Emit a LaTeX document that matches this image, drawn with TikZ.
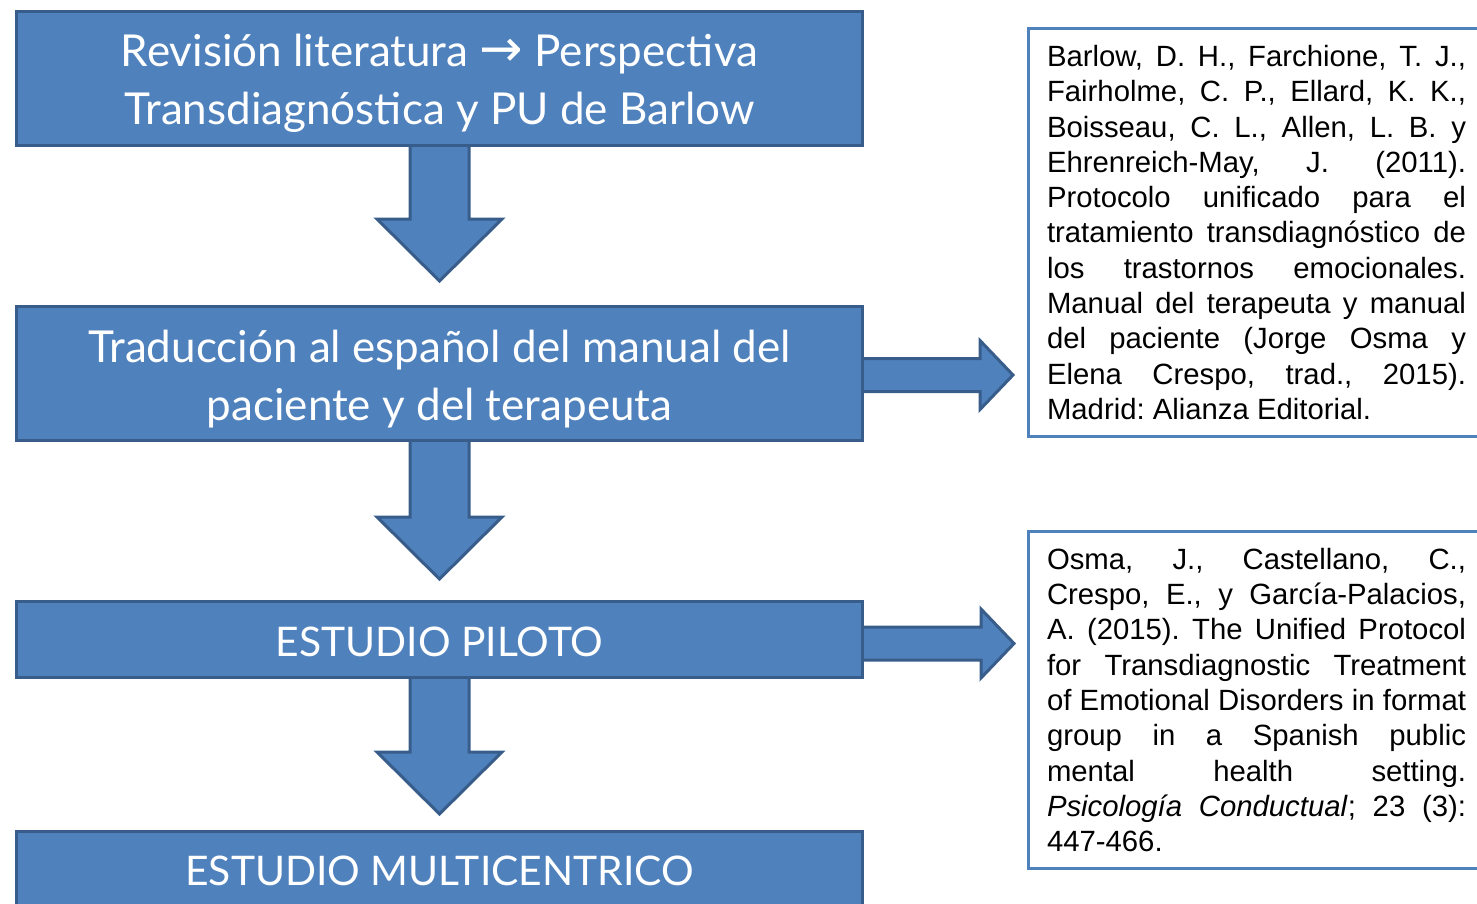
\documentclass[tikz,border=0pt]{standalone}
\usepackage{fontspec}
\setmainfont{Lato}
\newfontfamily\reff{Liberation Sans}
\newfontfamily\symf{DejaVu Sans}
\usetikzlibrary{calc}
\definecolor{boxfill}{HTML}{4F81BD}
\definecolor{boxline}{HTML}{385D8A}
\newcommand\nobreaks{\hyphenpenalty=10000\relax\exhyphenpenalty=10000\relax}
\tikzset{
  stage/.style={draw=boxline, line width=3pt, fill=boxfill,
    minimum width=846pt, inner sep=0pt},
  stagetext/.style={text=white, inner sep=0pt, align=center,
    font=\fontsize{44}{58}\selectfont},
  capstext/.style={stagetext, font=\fontsize{40.8}{58}\selectfont},
  blockarrow/.style={draw=boxline, line width=3pt, fill=boxfill, line join=miter},
  refbox/.style={draw=boxfill, line width=3pt, fill=white, text=black,
    text width=419pt, inner xsep=18.5pt, inner ysep=0pt, anchor=north west, align=justify,
    font=\reff\fontsize{29.3}{35.3}\selectfont}
}
\begin{document}
\begin{tikzpicture}[x=1pt,y=-1pt]
\clip (0,0) rectangle (1477,903);
\useasboundingbox (0,0) rectangle (1477,903);
% tips of the block arrows
\coordinate (d1) at (439.5,281);
\coordinate (d2) at (439.5,579);
\coordinate (d3) at (439.5,814);
\coordinate (r1) at (1013,375);
\coordinate (r2) at (1014,643.5);
% stage box centres
\path (439.5,78.5) coordinate (c1) (439.5,373.5) coordinate (c2)
      (439.5,639.5) coordinate (c3) (439.5,869.5) coordinate (c4);
% down arrows (drawn below the boxes)
\foreach \t/\y in {d1/147, d2/442, d3/679}{
  \draw[blockarrow] (\t |- 0,\y) ++(-29.5,-5) coordinate (a)
     -- ($(\t)+(-29.5,-62)$) -- ($(\t)+(-62.5,-62)$) -- (\t)
     -- ($(\t)+(62.5,-62)$) -- ($(\t)+(29.5,-62)$) -- ($(a)+(59,0)$) -- cycle;
}
% right arrows
\foreach \t in {r1, r2}{
  \draw[blockarrow] (855,0 |- \t) ++(0,-16.5) coordinate (a)
     -- ($(\t)+(-33,-16.5)$) -- ($(\t)+(-33,-34.5)$) -- (\t)
     -- ($(\t)+(-33,34.5)$) -- ($(\t)+(-33,16.5)$) -- ($(a)+(0,33)$) -- cycle;
}
% stage boxes
\node[stage, minimum height=134pt] (b1) at (c1) {};
\node[stagetext] (t1) at ($(c1)+(0,5)$)
  {Revisión literatura {\symf\fontsize{52}{58}\selectfont →} Perspectiva\\Transdiagnóstica y PU de Barlow};
\node[stage, minimum height=134pt] (b2) at (c2) {};
\node[stagetext] (t2) at ($(c2)+(0,6)$)
  {Traducción al español del manual del\\paciente y del terapeuta};
\node[stage, minimum height=76pt] (b3) at (c3) {};
\node[capstext] (t3) at ($(c3)+(0,2)$) {ESTUDIO PILOTO};
\node[stage, minimum height=76pt] (b4) at (c4) {};
\node[capstext] (t4) at ($(c4)+(0,1.5)$) {ESTUDIO MULTICENTRICO};
% reference boxes
\node[refbox, minimum height=408pt] (ref1) at (1027,27)
  {\nobreaks\frenchspacing Barlow, D. H., Farchione, T. J.,\linebreak Fairholme, C. P., Ellard, K. K.,\linebreak Boisseau, C. L., Allen, L. B. y\linebreak Ehrenreich-May, J. (2011).\linebreak Protocolo unificado para el\linebreak tratamiento transdiagnóstico de\linebreak los trastornos emocionales.\linebreak Manual del terapeuta y manual\linebreak del paciente (Jorge Osma y\linebreak Elena Crespo, trad., 2015).\linebreak Madrid: Alianza Editorial.};
\node[refbox, minimum height=337pt] (ref2) at (1027,530)
  {\nobreaks\frenchspacing Osma, J., Castellano, C.,\linebreak Crespo, E., y García-Palacios,\linebreak A. (2015). The Unified Protocol\linebreak for Transdiagnostic Treatment\linebreak of Emotional Disorders in format\linebreak group in a Spanish public\linebreak mental health setting.\linebreak \textit{Psicología Conductual}; 23 (3):\linebreak 447-466.};
\end{tikzpicture}
\end{document}
